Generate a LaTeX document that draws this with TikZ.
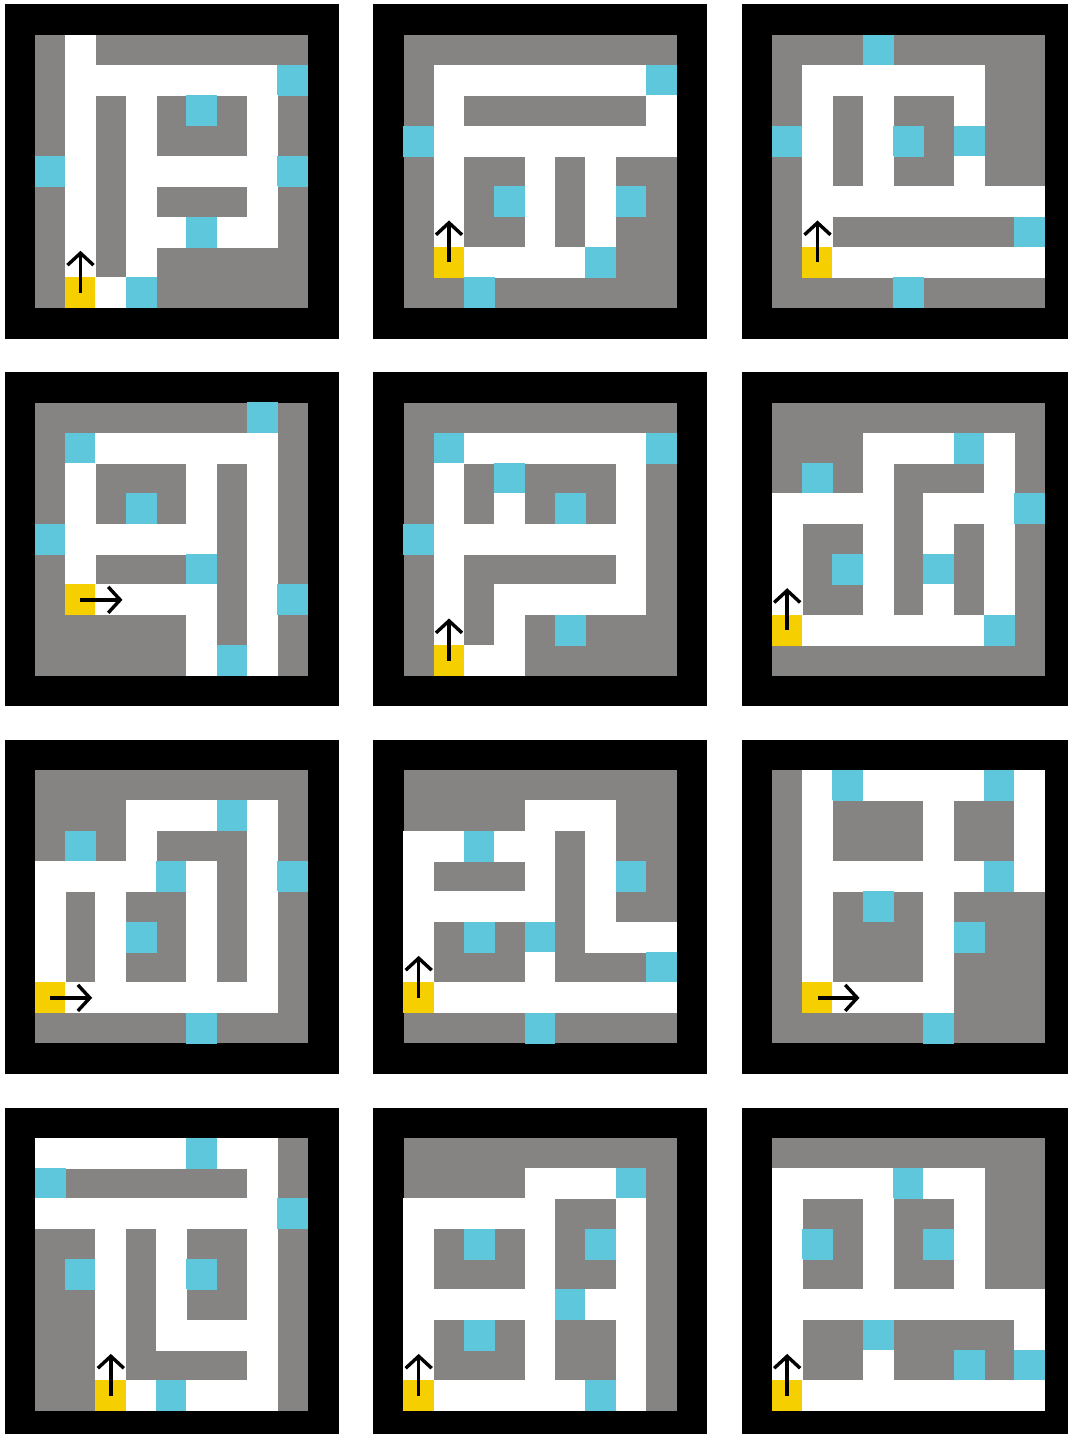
\documentclass[tikz,border=0pt]{standalone}
\usetikzlibrary{arrows.meta}

\definecolor{wallgray}{RGB}{134,131,131}
\definecolor{cellW}{RGB}{255,255,255}
\definecolor{cellC}{RGB}{94,199,219}
\definecolor{cellY}{RGB}{246,207,0}

\newcommand{\cellsz}{30.33}
% one cell: column, letter (G wall, W path, C goal, Y start)
\newcommand{\mazecell}[2]{%
  \if#2G\else
    \fill[cell#2] ({\mzx+#1*\cellsz-0.3},{\mzy+\rowno*\cellsz-0.3}) rectangle ++({\cellsz+0.6},{\cellsz+0.6});
  \fi
  \if#2Y
    \coordinate (start) at ({\mzx+(#1+0.5)*\cellsz},{\mzy+(\rowno+0.5)*\cellsz});
  \fi}
\newcommand{\mazerow}[9]{\mazecell{0}{#1}\mazecell{1}{#2}\mazecell{2}{#3}\mazecell{3}{#4}\mazecell{4}{#5}\mazecell{5}{#6}\mazecell{6}{#7}\mazecell{7}{#8}\mazecell{8}{#9}}
% panel: column, row, arrow dx, arrow dy, nine rows
\newcommand{\maze}[5]{%
  \pgfmathsetmacro{\mzx}{35+368.5*#1}%
  \pgfmathsetmacro{\mzy}{35+367.7*#2}%
  \fill[black] ({\mzx-30.5},{\mzy-30.5}) rectangle ++(334,334);
  \fill[wallgray] (\mzx,\mzy) rectangle ++(273,273);
  \foreach \rowcode [count=\rowno from 0] in {#5} {\expandafter\mazerow\rowcode}
  \draw[startarrow] (start) -- ++(#3,#4);
}

\begin{document}
\begin{tikzpicture}[
  x=0.5pt, y=-0.5pt,
  startarrow/.style={-{Straight Barb[length=6pt,width=13pt]}, line width=1.7pt, black}
]
\useasboundingbox (0,0) rectangle (1067,1434);
\fill[white] (0,0) rectangle (1067,1434);

\maze{0}{0}{0}{-42}{GWGGGGGGG,GWWWWWWWC,GWGWGCGWG,GWGWGGGWG,CWGWWWWWC,GWGWGGGWG,GWGWWCWWG,GWGWGGGGG,GYWCGGGGG}
\maze{1}{0}{0}{-42}{GGGGGGGGG,GWWWWWWWC,GWGGGGGGW,CWWWWWWWW,GWGGWGWGG,GWGCWGWCG,GWGGWGWGG,GYWWWWCGG,GGCGGGGGG}
\maze{2}{0}{0}{-42}{GGGCGGGGG,GWWWWWWGG,GWGWGGWGG,CWGWCGCGG,GWGWGGWGG,GWWWWWWWW,GWGGGGGGC,GYWWWWWWW,GGGGCGGGG}

\maze{0}{1}{42}{0}{GGGGGGGCG,GCWWWWWWG,GWGGGWGWG,GWGCGWGWG,CWWWWWGWG,GWGGGCGWG,GYWWWWGWC,GGGGGWGWG,GGGGGWCWG}
\maze{1}{1}{0}{-42}{GGGGGGGGG,GCWWWWWWC,GWGCGGGWG,GWGWGCGWG,CWWWWWWWG,GWGGGGGWG,GWGWWWWWG,GWGWGCGGG,GYWWGGGGG}
\maze{2}{1}{0}{-42}{GGGGGGGGG,GGGWWWCWG,GCGWGGGWG,WWWWGWWWC,WGGWGWGWG,WGCWGCGWG,WGGWGWGWG,YWWWWWWCG,GGGGGGGGG}

\maze{0}{2}{42}{0}{GGGGGGGGG,GGGWWWCWG,GCGWGGGWG,WWWWCWGWC,WGWGGWGWG,WGWCGWGWG,WGWGGWGWG,YWWWWWWWG,GGGGGCGGG}
\maze{1}{2}{0}{-42}{GGGGGGGGG,GGGGWWWGG,WWCWWGWGG,WGGGWGWCG,WWWWWGWGG,WGCGCGWWW,WGGGWGGGC,YWWWWWWWW,GGGGCGGGG}
\maze{2}{2}{42}{0}{GWCWWWWCW,GWGGGWGGW,GWGGGWGGW,GWWWWWWCW,GWGCGWGGG,GWGGGWCGG,GWGGGWGGG,GYWWWWGGG,GGGGGCGGG}

\maze{0}{3}{0}{-42}{WWWWWCWWG,CGGGGGGWG,WWWWWWWWC,GGWGWGGWG,GCWGWCGWG,GGWGWGGWG,GGWGWWWWG,GGWGGGGWG,GGYWCWWWG}
\maze{1}{3}{0}{-42}{GGGGGGGGG,GGGGWWWCG,WWWWWGGWG,WGCGWGCWG,WGGGWGGWG,WWWWWCWWG,WGCGWGGWG,WGGGWGGWG,YWWWWWCWG}
\maze{2}{3}{0}{-42}{GGGGGGGGG,WWWWCWWGG,WGGWGGWGG,WCGWGCWGG,WGGWGGWGG,WWWWWWWWW,WGGCGGGGW,WGGWGGCGC,YWWWWWWWW}

\end{tikzpicture}
\end{document}
